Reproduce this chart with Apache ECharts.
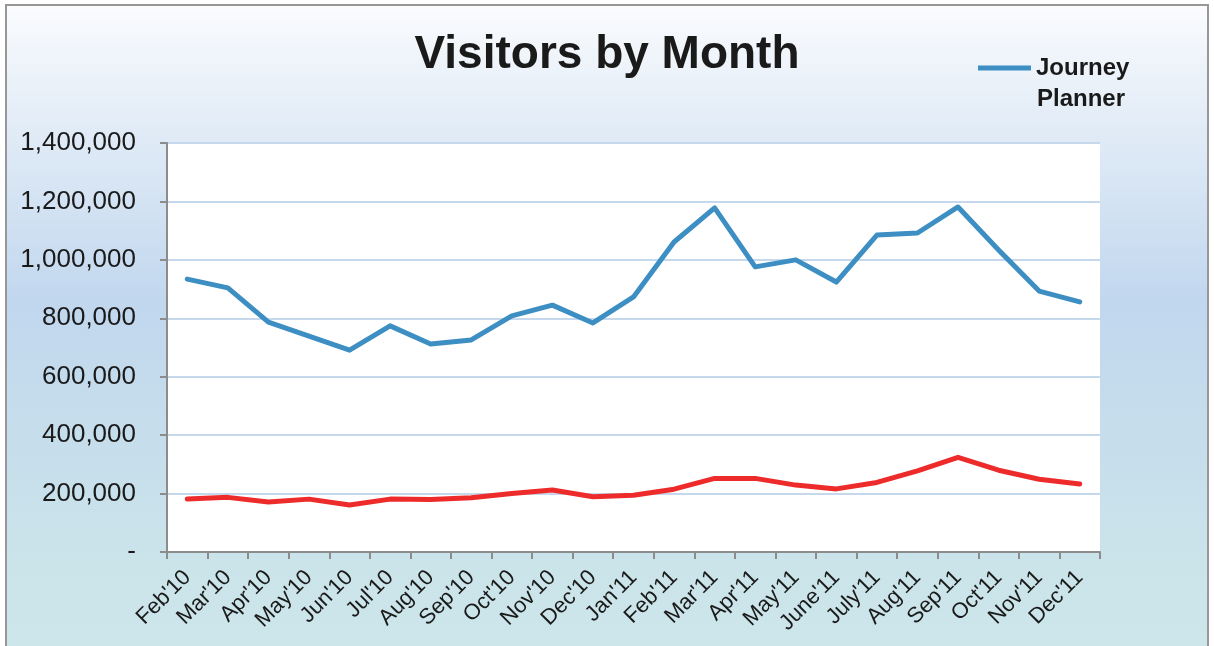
<!DOCTYPE html>
<html>
<head>
    <meta charset="utf-8">
    <title>Visitors by Month</title>
    <script src="https://cdn.jsdelivr.net/npm/echarts@6/dist/echarts.min.js"></script>
    <style>
        html, body { margin: 0; padding: 0; background: #fff; }
    </style>
</head>
<body>
    <div id="main" style="width: 1214px;height:646px;"></div>
    <script type="text/javascript">
        // data
        var months = ["Feb'10", "Mar'10", "Apr'10", "May'10", "Jun'10", "Jul'10", "Aug'10", "Sep'10",
            "Oct'10", "Nov'10", "Dec'10", "Jan'11", "Feb'11", "Mar'11", "Apr'11", "May'11",
            "June'11", "July'11", "Aug'11", "Sep'11", "Oct'11", "Nov'11", "Dec'11"];
        var journeyPlanner = [934000, 904000, 787000, 739000, 691000, 774000, 712000, 726000,
            808000, 845000, 784000, 873000, 1061000, 1178000, 976000, 1000000,
            924000, 1085000, 1092000, 1181000, 1034000, 893000, 856000];
        var otherVisitors = [181000, 187000, 171000, 181000, 161000, 181000, 180000, 186000,
            200000, 212000, 189000, 194000, 215000, 252000, 252000, 229000,
            216000, 238000, 278000, 324000, 280000, 249000, 233000];
        var yTicks = [0, 200000, 400000, 600000, 800000, 1000000, 1200000, 1400000];

        var myChart = echarts.init(document.getElementById('main'));

        var font = 'Liberation Sans, Arial, sans-serif';

        var option = {
            animation: false,
            textStyle: { fontFamily: font },
            graphic: [
                {   // outer frame with the blue gradient
                    type: 'rect',
                    z: -10,
                    shape: { x: 6, y: 5, width: 1202, height: 660 },
                    style: {
                        fill: new echarts.graphic.LinearGradient(0, 0, 0, 1, [
                            { offset: 0, color: '#fbfcfe' },
                            { offset: 0.12, color: '#eaf1f9' },
                            { offset: 0.45, color: '#c1d7ee' },
                            { offset: 0.85, color: '#cbe4ea' },
                            { offset: 1, color: '#cde6ea' }
                        ]),
                        stroke: '#979797',
                        lineWidth: 2
                    }
                },
                {   // second line of the legend label
                    type: 'text',
                    left: 1037,
                    top: 87,
                    style: {
                        text: 'Planner',
                        font: 'bold 24px Liberation Sans, Arial, sans-serif',
                        fill: '#1a1a1a'
                    }
                }
            ],
            title: {
                text: 'Visitors by Month',
                left: 'center',
                top: 27,
                textStyle: { fontSize: 46, fontWeight: 'bold', color: '#1a1a1a', fontFamily: font }
            },
            legend: {
                data: ['Journey Planner'],
                left: 978,
                top: 56,
                padding: 0,
                itemWidth: 53,
                itemHeight: 5,
                itemGap: 6,
                icon: 'path://M0,0 L53,0 L53,5 L0,5 Z',
                formatter: function () { return 'Journey'; },
                textStyle: { fontSize: 24, fontWeight: 'bold', color: '#1a1a1a', lineHeight: 24, fontFamily: font }
            },
            grid: {
                left: 167,
                right: 114,
                top: 143,
                bottom: 94,
                show: true,
                backgroundColor: '#ffffff',
                borderWidth: 0
            },
            xAxis: {
                type: 'category',
                data: months,
                boundaryGap: true,
                axisLine: { lineStyle: { color: '#8c8c8c', width: 2 } },
                axisTick: { show: true, length: 7, lineStyle: { color: '#8c8c8c', width: 2 } },
                axisLabel: {
                    interval: 0,
                    rotate: 45,
                    fontSize: 22,
                    color: '#1a1a1a',
                    margin: 22,
                    fontFamily: font
                }
            },
            yAxis: {
                type: 'value',
                min: yTicks[0],
                max: yTicks[yTicks.length - 1],
                interval: 200000,
                axisLine: { show: true, lineStyle: { color: '#8c8c8c', width: 2 } },
                axisTick: { show: true, length: 7, lineStyle: { color: '#8c8c8c', width: 2 } },
                splitLine: { lineStyle: { color: '#c6d9ec', width: 2 } },
                axisLabel: {
                    fontSize: 26,
                    color: '#1a1a1a',
                    margin: 31,
                    fontFamily: font,
                    formatter: function (v) {
                        if (v === 0) return '-';
                        return v.toLocaleString('en-US');
                    }
                }
            },
            series: [
                {
                    name: 'Journey Planner',
                    type: 'line',
                    data: journeyPlanner,
                    symbol: 'none',
                    lineStyle: { color: '#3d8fc3', width: 5, cap: 'round', join: 'round' },
                    itemStyle: { color: '#3d8fc3' }
                },
                {
                    name: 'Other',
                    type: 'line',
                    data: otherVisitors,
                    symbol: 'none',
                    lineStyle: { color: '#ee2b2b', width: 5, cap: 'round', join: 'round' },
                    itemStyle: { color: '#ee2b2b' }
                }
            ]
        };

        myChart.setOption(option);
    </script>
</body>
</html>
